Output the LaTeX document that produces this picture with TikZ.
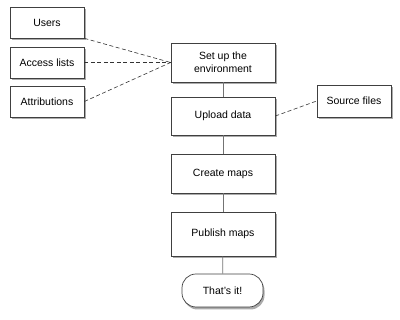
\documentclass[tikz,border=0pt]{standalone}
\usepackage{fontspec}
\setmainfont{Liberation Sans}
\usetikzlibrary{shadows}
\begin{document}
\begin{tikzpicture}[x=1pt,y=-1pt,
  box/.style={draw=black!75, line width=0.7pt, fill=white, align=center,
    font=\fontsize{10.5}{12.5}\selectfont, inner sep=0pt,
    drop shadow={shadow xshift=1.5pt, shadow yshift=-2.5pt, fill=black!55, opacity=0.6}},
  dashline/.style={dash pattern=on 4pt off 2.5pt, draw=black!80, line width=0.6pt},
  link/.style={draw=black!55, line width=0.7pt}]
\useasboundingbox (0,0) rectangle (400,320);
\node[box, minimum width=74pt, minimum height=31pt] (users) at (47,22.5) {Users};
\node[box, minimum width=74pt, minimum height=31pt] (access) at (47,62.5) {Access lists};
\node[box, minimum width=74pt, minimum height=31pt] (attr) at (47,101.5) {Attributions};
\node[box, minimum width=104pt, minimum height=39pt] (setup) at (223,62.5) {Set up the\\environment};
\node[box, minimum width=104pt, minimum height=38pt] (upload) at (223,116) {Upload data};
\node[box, minimum width=74pt, minimum height=32pt] (source) at (354,101) {Source files};
\node[box, minimum width=104pt, minimum height=39pt] (create) at (223,173.5) {Create maps};
\node[box, minimum width=104pt, minimum height=44pt] (publish) at (223,234) {Publish maps};
\node[box, minimum width=81pt, minimum height=33pt, rounded corners=14pt] (done) at (222.5,290.5) {That's it!};
\draw[dashline] (users.south east) -- (setup.west);
\draw[dashline] (access.east) -- (setup.west);
\draw[dashline] (attr.east) -- (setup.west);
\draw[dashline] (upload.east) -- (source.west);
\draw[link] (setup) -- (upload);
\draw[link] (upload) -- (create);
\draw[link] (create) -- (publish);
\draw[link] (publish) -- (done);
\end{tikzpicture}
\end{document}
